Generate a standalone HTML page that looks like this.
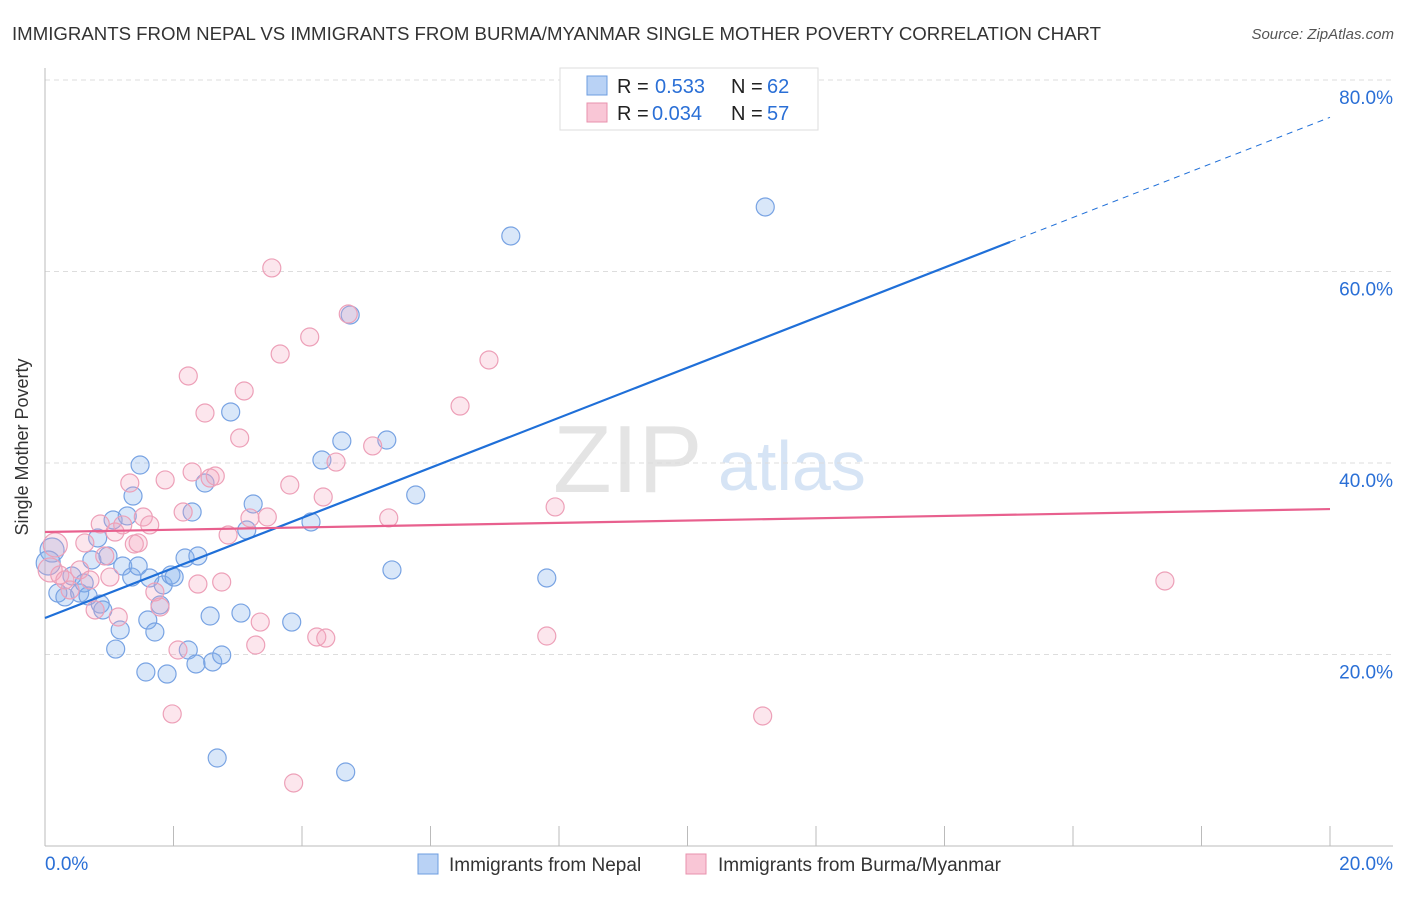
<!DOCTYPE html>
<html><head><meta charset="utf-8"><style>
body{margin:0;background:#fff;font-family:"Liberation Sans",sans-serif;}
svg text{font-family:"Liberation Sans",sans-serif;}
</style></head><body>
<svg id="chart" width="1406" height="892">
<text x="12" y="40" font-size="18" fill="#333" textLength="1089" lengthAdjust="spacingAndGlyphs">IMMIGRANTS FROM NEPAL VS IMMIGRANTS FROM BURMA/MYANMAR SINGLE MOTHER POVERTY CORRELATION CHART</text>
<text x="1394" y="39" font-size="15" fill="#555" font-style="italic" text-anchor="end">Source: ZipAtlas.com</text>
<g>
<text x="553" y="492" font-size="96" fill="#e4e4e4" font-family="Liberation Serif,serif">ZIP</text>
<text x="718" y="490" font-size="70" fill="#d6e4f5">atlas</text>
</g>
<g id="grid"></g><g id="axes"></g><g id="pts"></g><g id="lines"></g>
<g>
<rect x="560" y="68" width="258" height="62" fill="#fff" stroke="#ddd"/>
<rect x="587" y="76" width="20" height="19" fill="#b9d2f5" stroke="#6d9de0"/>
<text x="617" y="93" font-size="20" fill="#222">R =</text><text x="655" y="93" font-size="20" fill="#2a6fd6">0.533</text>
<text x="731" y="93" font-size="20" fill="#222">N =</text><text x="767" y="93" font-size="20" fill="#2a6fd6">62</text>
<rect x="587" y="103" width="20" height="19" fill="#f9c6d6" stroke="#e892ad"/>
<text x="617" y="120" font-size="20" fill="#222">R =</text><text x="652" y="120" font-size="20" fill="#2a6fd6">0.034</text>
<text x="731" y="120" font-size="20" fill="#222">N =</text><text x="767" y="120" font-size="20" fill="#2a6fd6">57</text>
</g>
<g>
<rect x="418" y="854" width="20" height="20" fill="#b9d2f5" stroke="#6d9de0"/>
<text x="449" y="871" font-size="19" fill="#333">Immigrants from Nepal</text>
<rect x="686" y="854" width="20" height="20" fill="#f9c6d6" stroke="#e892ad"/>
<text x="718" y="871" font-size="19" fill="#333">Immigrants from Burma/Myanmar</text>
</g>
<text x="36" y="455" font-size="18" fill="#333" transform="rotate(-90 28 455)" text-anchor="middle">Single Mother Poverty</text>
</svg>
<script>
const yTicks=[20,40,60,80];
const yTickLabels=["20.0%","40.0%","60.0%","80.0%"];
const xTickLabels=["0.0%","20.0%"];
const nepalX=[0.11,0.05,0.20,0.31,0.42,0.54,0.61,0.67,0.73,0.82,0.86,0.90,0.98,1.06,1.10,1.17,1.21,1.28,1.35,1.37,1.45,1.48,1.60,1.63,1.57,1.71,1.79,1.84,1.90,1.96,2.01,2.18,2.23,2.29,2.35,2.38,2.49,2.57,2.61,2.68,2.75,2.89,3.05,3.14,3.24,3.84,4.14,4.31,4.62,4.68,4.75,5.32,5.40,5.77,7.25,7.81,11.21];
const nepalY=[30.91,29.56,26.42,26.01,28.20,26.42,27.47,26.11,29.87,32.17,25.27,24.65,30.29,34.05,20.57,22.56,29.24,34.47,28.09,36.55,29.24,39.79,23.60,27.99,18.17,22.35,25.17,27.26,17.96,28.30,28.09,30.08,20.47,34.88,19.01,30.29,37.91,24.02,19.22,9.19,19.95,45.33,24.33,33.00,35.72,23.39,33.84,40.31,42.30,7.73,55.46,42.40,28.83,36.66,63.71,27.99,66.74];
const burmaX=[0.08,0.16,0.23,0.31,0.39,0.54,0.62,0.70,0.78,0.86,0.93,1.01,1.09,1.14,1.21,1.32,1.39,1.45,1.53,1.63,1.71,1.79,1.87,1.98,2.07,2.15,2.23,2.29,2.38,2.49,2.57,2.65,2.75,2.85,3.03,3.10,3.19,3.28,3.35,3.46,3.53,3.66,3.81,3.87,4.12,4.23,4.33,4.37,4.53,4.72,5.10,5.35,6.46,6.91,7.81,7.94,11.17,17.43];
const burmaY=[28.83,31.44,28.30,27.78,26.74,28.83,31.65,27.78,24.65,33.63,30.29,28.09,32.79,23.92,33.53,37.91,31.54,31.65,34.36,33.53,26.53,24.96,38.23,13.79,20.47,34.88,49.09,39.06,27.36,45.22,38.43,38.64,27.57,32.48,42.61,47.52,34.26,20.99,23.39,34.36,60.37,51.38,37.70,6.58,53.16,21.83,36.45,21.72,40.10,55.56,41.78,34.26,45.95,50.76,21.93,35.41,13.58,27.68];
const nepalTrend=[23.81,76.1];
const burmaTrend=[32.79,35.19];
const NS="http://www.w3.org/2000/svg";
const X=v=>45+v/20*1285, Y=v=>846-v/20*191.5;
function mk(t,a,p){const e=document.createElementNS(NS,t);for(const k in a)e.setAttribute(k,a[k]);p.appendChild(e);return e;}
const grid=document.getElementById('grid'),axes=document.getElementById('axes'),pts=document.getElementById('pts'),lines=document.getElementById('lines');
yTicks.forEach((t,i)=>{
 const g=mk('line',{x1:45,x2:1393,y1:Y(t),y2:Y(t),stroke:'#ddd','stroke-dasharray':'5,4'},grid);
 
 
 const l=mk('text',{x:1393,y:Y(t)+24,'font-size':19,fill:'#2a6fd6','text-anchor':'end'},axes);l.textContent=yTickLabels[i];
 
 
});
const ax=mk('line',{x1:45,x2:45,y1:68,y2:846,stroke:'#bbb'},axes);


const bx=mk('line',{x1:45,x2:1393,y1:846,y2:846,stroke:'#bbb'},axes);


for(let i=0;i<=10;i++){const t=mk('line',{x1:X(i*2),x2:X(i*2),y1:826,y2:846,stroke:'#bbb'},axes);
 
 }
const xl0=mk('text',{x:45,y:870,'font-size':19,fill:'#2a6fd6'},axes);xl0.textContent=xTickLabels[0];


const xl1=mk('text',{x:1393,y:870,'font-size':19,fill:'#2a6fd6','text-anchor':'end'},axes);xl1.textContent=xTickLabels[1];


function dots(xs,ys,fill,stroke,name){xs.forEach((x,i)=>{const r=(i<2&&x<0.5)?12:9;
 const c=mk('circle',{cx:X(x),cy:Y(ys[i]),r:r,fill:fill,stroke:stroke,'stroke-width':1.2},pts);
 
 });}
dots(nepalX,nepalY,'rgba(130,175,235,0.3)','#78a3e3','nepal-point');
dots(burmaX,burmaY,'rgba(245,165,190,0.28)','#eda0b8','burma-point');
const xs=15.02, ym=nepalTrend[0]+(nepalTrend[1]-nepalTrend[0])*xs/20;
const l1=mk('line',{x1:X(0),y1:Y(nepalTrend[0]),x2:X(xs),y2:Y(ym),stroke:'#1f6fd8','stroke-width':2.2},lines);


const l2=mk('line',{x1:X(xs),y1:Y(ym),x2:X(20),y2:Y(nepalTrend[1]),stroke:'#1f6fd8','stroke-width':1,'stroke-dasharray':'6,5'},lines);


const l3=mk('line',{x1:X(0),y1:Y(burmaTrend[0]),x2:X(20),y2:Y(burmaTrend[1]),stroke:'#e8608e','stroke-width':2.2},lines);


</script>
</body></html>
